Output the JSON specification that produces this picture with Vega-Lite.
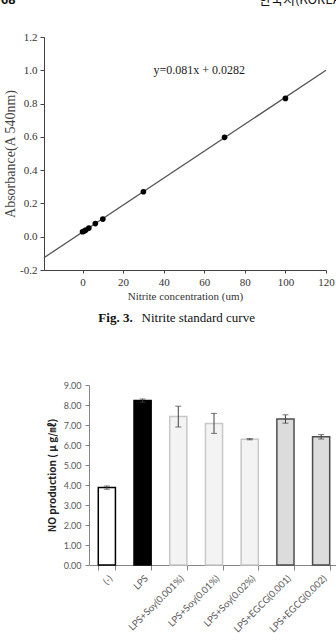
{
  "$schema": "https://vega.github.io/schema/vega-lite/v6.json",
  "background": "white",
  "padding": {"left": 0, "top": -6, "right": 0, "bottom": 0},
  "spacing": 56,
  "config": {"view": {"stroke": null}},
  "vconcat": [
    {
      "width": 282,
      "height": 233,
      "encoding": {
        "x": {
          "field": "conc",
          "type": "quantitative",
          "scale": {"domain": [-19, 120], "nice": false, "zero": false},
          "axis": {
            "values": [0, 20, 40, 60, 80, 100, 120],
            "title": "Nitrite  concentration  (um)",
            "grid": false,
            "labelFlush": false,
            "labelFont": "Liberation Serif",
            "labelFontSize": 11,
            "labelColor": "#333333",
            "labelPadding": 3,
            "titleFont": "Liberation Serif",
            "titleFontSize": 11,
            "titleFontWeight": "normal",
            "titleColor": "#333333",
            "titlePadding": 3,
            "domainColor": "#404040",
            "tickColor": "#404040",
            "tickSize": 3
          }
        },
        "y": {
          "field": "abs",
          "type": "quantitative",
          "scale": {"domain": [-0.2, 1.2], "nice": false, "zero": false},
          "axis": {
            "values": [-0.2, 0, 0.2, 0.4, 0.6, 0.8, 1.0, 1.2],
            "labelExpr": "replace(format(datum.value, '.1f'), '\u2212', '-')",
            "title": "Absorbance(A 540nm)",
            "grid": false,
            "labelFlush": false,
            "labelFont": "Liberation Serif",
            "labelFontSize": 11,
            "labelColor": "#333333",
            "labelPadding": 3,
            "titleFont": "Liberation Serif",
            "titleFontSize": 14,
            "titleFontWeight": "normal",
            "titleColor": "#444444",
            "titlePadding": 2,
            "domainColor": "#404040",
            "tickColor": "#404040",
            "tickSize": 4
          }
        }
      },
      "layer": [
        {
          "data": {"values": [
            {"conc": -19, "abs": -0.126},
            {"conc": 120, "abs": 1.0}
          ]},
          "mark": {"type": "line", "color": "#555555", "strokeWidth": 1.3},
          "encoding": {}
        },
        {
          "data": {"values": [
            {"conc": 0, "abs": 0.030},
            {"conc": 0.8, "abs": 0.034},
            {"conc": 1.6, "abs": 0.040},
            {"conc": 3.1, "abs": 0.052},
            {"conc": 6.3, "abs": 0.079},
            {"conc": 10, "abs": 0.106},
            {"conc": 30, "abs": 0.270},
            {"conc": 70, "abs": 0.597},
            {"conc": 100, "abs": 0.831}
          ]},
          "mark": {"type": "circle", "color": "#000000", "opacity": 1, "size": 32}
        },
        {
          "data": {"values": [
            {"conc": 35, "abs": 1.0, "label": "y=0.081x  +  0.0282"}
          ]},
          "mark": {"type": "text", "align": "left", "baseline": "middle", "font": "Liberation Serif", "fontSize": 12, "color": "#222222"},
          "encoding": {"text": {"field": "label"}}
        },
        {
          "data": {"values": [
            {"conc": 24.7, "abs": -0.486, "label": "Fig.  3."}
          ]},
          "mark": {"type": "text", "align": "right", "baseline": "middle", "font": "Liberation Serif", "fontSize": 13, "fontWeight": "bold", "color": "#111111"},
          "encoding": {"text": {"field": "label"}}
        },
        {
          "data": {"values": [
            {"conc": 29.1, "abs": -0.486, "label": "Nitrite  standard  curve"}
          ]},
          "mark": {"type": "text", "align": "left", "baseline": "middle", "font": "Liberation Serif", "fontSize": 13, "color": "#111111"},
          "encoding": {"text": {"field": "label"}}
        },
        {
          "data": {"values": [
            {"conc": -40.2, "abs": 1.398, "label": "68"}
          ]},
          "mark": {"type": "text", "align": "left", "baseline": "alphabetic", "font": "Liberation Sans", "fontSize": 13, "fontWeight": "bold", "color": "#111111"},
          "encoding": {"text": {"field": "label"}}
        },
        {
          "data": {"values": [
            {"conc": 87, "abs": 1.398, "label": "한국지(KOREA"}
          ]},
          "mark": {"type": "text", "align": "left", "baseline": "alphabetic", "font": "Noto Sans CJK KR", "fontSize": 13, "color": "#111111"},
          "encoding": {"text": {"field": "label"}}
        }
      ]
    },
    {
      "width": 295,
      "height": 180,
      "data": {"values": [
        {"treatment": "(-)", "mean": 3.87, "sd": 0.08},
        {"treatment": "LPS", "mean": 8.22, "sd": 0.08},
        {"treatment": "LPS+Soy(0.001%)", "mean": 7.42, "sd": 0.52},
        {"treatment": "LPS+Soy(0.01%)", "mean": 7.08, "sd": 0.50},
        {"treatment": "LPS+Soy(0.02%)", "mean": 6.29, "sd": 0.03},
        {"treatment": "LPS+EGCG(0.001)", "mean": 7.30, "sd": 0.21},
        {"treatment": "LPS+EGCG(0.002)", "mean": 6.41, "sd": 0.11}
      ]},
      "encoding": {
        "x": {
          "field": "treatment",
          "type": "nominal",
          "sort": null,
          "scale": {"range": [45, 295], "paddingInner": 0.52, "paddingOuter": 0.26},
          "axis": {
            "title": null,
            "labelAngle": -45,
            "labelFont": "Lato",
            "labelFontSize": 9.5,
            "labelColor": "#595959",
            "labelPadding": 3,
            "domainColor": "#868686",
            "tickColor": "#868686",
            "tickSize": 5,
            "tickBand": "extent"
          }
        },
        "y": {
          "field": "mean",
          "type": "quantitative",
          "scale": {"domain": [0, 9], "nice": false},
          "axis": {
            "values": [0, 1, 2, 3, 4, 5, 6, 7, 8, 9],
            "format": ".2f",
            "offset": -45,
            "title": "NO production ( μ g/㎖)",
            "grid": false,
            "labelFont": "Lato",
            "labelFontSize": 9,
            "labelColor": "#595959",
            "labelPadding": 4,
            "titleFont": "Noto Sans CJK KR",
            "titleFontSize": 10,
            "titleFontWeight": "bold",
            "titleColor": "#222222",
            "titlePadding": 6,
            "domainColor": "#868686",
            "tickColor": "#868686",
            "tickSize": 4
          }
        }
      },
      "layer": [
        {
          "mark": {"type": "bar", "strokeWidth": 1.5},
          "encoding": {
            "fill": {
              "field": "treatment",
              "type": "nominal",
              "legend": null,
              "scale": {
                "domain": ["(-)", "LPS", "LPS+Soy(0.001%)", "LPS+Soy(0.01%)", "LPS+Soy(0.02%)", "LPS+EGCG(0.001)", "LPS+EGCG(0.002)"],
                "range": ["#ffffff", "#000000", "#f3f3f3", "#f3f3f3", "#f3f3f3", "#dcdcdc", "#dcdcdc"]
              }
            },
            "stroke": {
              "field": "treatment",
              "type": "nominal",
              "legend": null,
              "scale": {
                "domain": ["(-)", "LPS", "LPS+Soy(0.001%)", "LPS+Soy(0.01%)", "LPS+Soy(0.02%)", "LPS+EGCG(0.001)", "LPS+EGCG(0.002)"],
                "range": ["#000000", "#000000", "#c8c8c8", "#c8c8c8", "#c8c8c8", "#4d4d4d", "#4d4d4d"]
              }
            }
          }
        },
        {
          "mark": {"type": "errorbar", "color": "#404040", "thickness": 1, "ticks": {"size": 6, "color": "#404040", "thickness": 1}},
          "encoding": {"yError": {"field": "sd"}}
        }
      ]
    }
  ]
}
